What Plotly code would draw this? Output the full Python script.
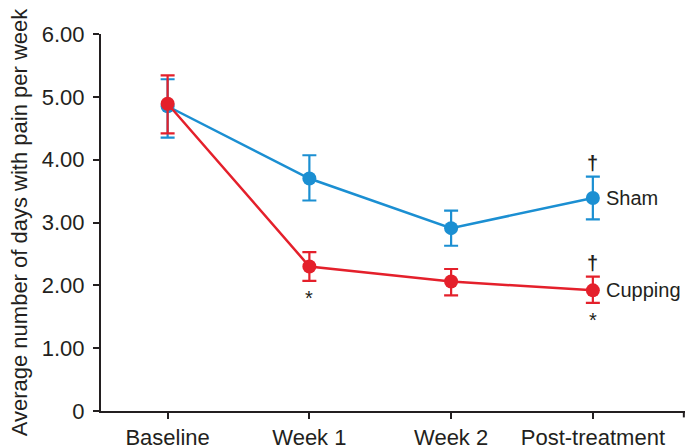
import plotly.graph_objects as go

categories = ["Baseline", "Week 1", "Week 2", "Post-treatment"]
sham = [4.85, 3.70, 2.91, 3.39]
sham_upper = [0.43, 0.37, 0.28, 0.34]
sham_lower = [0.50, 0.35, 0.28, 0.34]
cupping = [4.89, 2.30, 2.06, 1.92]
cupping_upper = [0.45, 0.23, 0.20, 0.22]
cupping_lower = [0.47, 0.23, 0.22, 0.20]
yticks = [0, 1, 2, 3, 4, 5, 6]
ytick_labels = ["0", "1.00", "2.00", "3.00", "4.00", "5.00", "6.00"]

BLUE = "#1b8fd2"
RED = "#e4202b"
TXT = "#231f20"
FONT = "Liberation Sans, Arial, sans-serif"
xs = list(range(len(categories)))

fig = go.Figure()
for name, vals, up, lo, col in [("Sham", sham, sham_upper, sham_lower, BLUE),
                                ("Cupping", cupping, cupping_upper, cupping_lower, RED)]:
    fig.add_trace(go.Scatter(
        x=xs, y=vals, mode="lines+markers", name=name,
        line=dict(color=col, width=2.5),
        marker=dict(color=col, size=14),
        error_y=dict(type="data", symmetric=False, array=up, arrayminus=lo,
                     color=col, thickness=2.2, width=7),
        showlegend=False,
    ))

ann = []
last = len(categories) - 1
AF = dict(size=20, color=TXT, family=FONT)
ann.append(dict(x=last, y=sham[last], text="Sham", xanchor="left", yanchor="middle",
                xshift=11, showarrow=False, font=AF))
ann.append(dict(x=last, y=cupping[last], text="Cupping", xanchor="left", yanchor="middle",
                xshift=11, showarrow=False, font=AF))
ann.append(dict(x=last, y=sham[last] + sham_upper[last], text="<b>†</b>", yanchor="bottom",
                yshift=1, showarrow=False, font=AF))
ann.append(dict(x=last, y=cupping[last] + cupping_upper[last], text="<b>†</b>", yanchor="bottom",
                yshift=1, showarrow=False, font=AF))
ann.append(dict(x=1, y=cupping[1] - cupping_lower[1], text="*", yanchor="top",
                yshift=-4, showarrow=False, font=AF))
ann.append(dict(x=last, y=cupping[last] - cupping_lower[last], text="*", yanchor="top",
                yshift=-4, showarrow=False, font=AF))

fig.update_layout(
    width=685, height=447,
    margin=dict(l=101, r=0, t=34, b=36, autoexpand=False),
    plot_bgcolor="white", paper_bgcolor="white",
    font=dict(family=FONT, size=22, color=TXT),
    annotations=ann,
    shapes=[dict(type="line", xref="paper", yref="paper", x0=-0.012, x1=0, y0=0, y1=0,
                 line=dict(color=TXT, width=2)),
            dict(type="line", xref="paper", yref="paper", x0=0.998, x1=0.998, y0=0, y1=-0.017,
                 line=dict(color=TXT, width=2))],
    xaxis=dict(range=[-0.47, 3.65], tickmode="array", tickvals=xs, ticktext=categories,
               showgrid=False, zeroline=False, showline=True, linecolor=TXT, linewidth=2,
               ticks="outside", ticklen=6, tickwidth=2, tickcolor=TXT,
               ticklabelstandoff=0, automargin=False,
               tickfont=dict(size=22, color=TXT)),
    yaxis=dict(range=[0, 6], tickmode="array", tickvals=yticks, ticktext=ytick_labels,
               showgrid=False, zeroline=False, showline=True, linecolor=TXT, linewidth=2,
               ticks="outside", ticklen=6, tickwidth=2, tickcolor=TXT,
               ticklabelstandoff=4, automargin=False,
               tickfont=dict(size=22, color=TXT),
               title=dict(text="Average number of days with pain per week",
                          font=dict(size=22, color=TXT), standoff=8)),
)

fig.write_html("out.html", config={"displayModeBar": False},
               post_script="document.body.style.margin='0';")
